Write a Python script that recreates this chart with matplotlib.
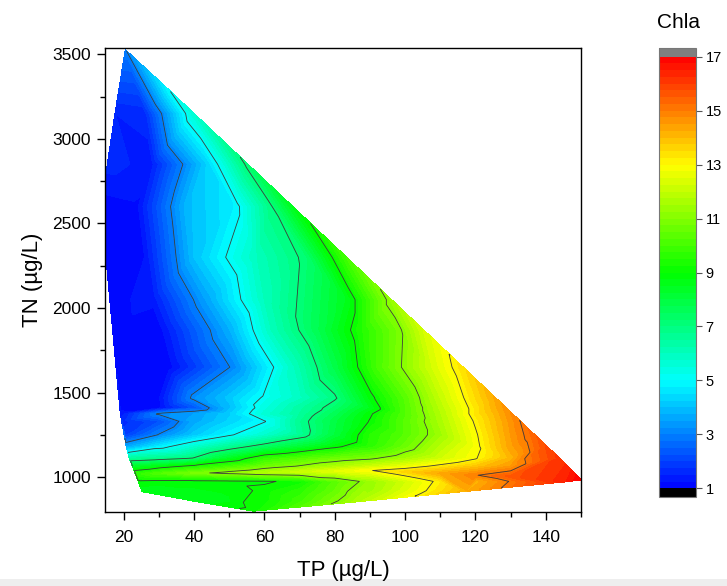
import numpy as np
import matplotlib
matplotlib.use("Agg")
import matplotlib.pyplot as plt
import matplotlib.tri as mtri
from matplotlib.colors import LinearSegmentedColormap
from matplotlib.patches import Rectangle

plt.rcParams["font.family"] = ["Liberation Sans", "DejaVu Sans"]

# sample points, one line per TN row (top to bottom)
tp = [20.5, 33.3,
      17.6, 26, 39.9,
      15.4, 28, 44, 55.2,
      13.8, 24, 38, 52, 62, 68.0,
      15.0, 26, 40, 58, 72, 83.3,
      16.2, 28, 44, 60, 84, 96.0,
      17.0, 30, 50, 62, 76, 88, 98, 105.2,
      18.0, 32, 52, 68, 80, 92, 108, 116.4,
      18.7, 30, 40, 50, 60, 70, 80, 90, 100, 110, 120, 125.6,
      19.0, 30, 40, 50, 60, 70, 80, 90, 100, 110, 120, 128.6,
      19.1, 30, 40, 50, 60, 70, 80, 90, 100, 110, 120, 130.4,
      19.5, 30, 40, 50, 60, 70, 80, 90, 100, 110, 120, 130, 132.7,
      20.2, 30, 40, 50, 60, 70, 80, 90, 100, 110, 120, 130, 136.8,
      20.8, 30, 40, 50, 60, 70, 80, 90, 100, 110, 120, 130, 140.4,
      21.7, 30, 40, 50, 60, 70, 80, 90, 100, 110, 120, 130, 143.9,
      22.7, 30, 40, 50, 60, 70, 80, 90, 100, 110, 120, 130, 146.2,
      23.4, 30, 40, 50, 60, 70, 80, 90, 100, 110, 120, 130, 150,
      24.2, 30, 40, 50, 60, 70, 80, 90, 100, 110, 120, 130, 145.0,
      25.3, 30, 40, 50, 60, 70, 80, 90, 100, 110, 117.3,
      40.3, 50, 60, 70, 80, 87.2,
      57]
tn = [3525, 3280,
      3150, 3150, 3150,
      2850, 2850, 2850, 2850,
      2600, 2600, 2600, 2600, 2600, 2600,
      2300, 2300, 2300, 2300, 2300, 2300,
      2050, 2050, 2050, 2050, 2050, 2050,
      1870, 1870, 1870, 1870, 1870, 1870, 1870, 1870,
      1650, 1650, 1650, 1650, 1650, 1650, 1650, 1650,
      1470, 1470, 1470, 1470, 1470, 1470, 1470, 1470, 1470, 1470, 1470, 1470,
      1410, 1410, 1410, 1410, 1410, 1410, 1410, 1410, 1410, 1410, 1410, 1410,
      1375, 1375, 1375, 1375, 1375, 1375, 1375, 1375, 1375, 1375, 1375, 1375,
      1330, 1330, 1330, 1330, 1330, 1330, 1330, 1330, 1330, 1330, 1330, 1330, 1330,
      1250, 1250, 1250, 1250, 1250, 1250, 1250, 1250, 1250, 1250, 1250, 1250, 1250,
      1180, 1180, 1180, 1180, 1180, 1180, 1180, 1180, 1180, 1180, 1180, 1180, 1180,
      1110, 1110, 1110, 1110, 1110, 1110, 1110, 1110, 1110, 1110, 1110, 1110, 1110,
      1065, 1065, 1065, 1065, 1065, 1065, 1065, 1065, 1065, 1065, 1065, 1065, 1065,
      1020, 1022, 1024, 1026, 1028, 1032, 1036, 1040, 1032, 1022, 1012, 1004, 985,
      975, 975, 975, 975, 975, 975, 975, 975, 975, 975, 975, 975, 972,
      915, 920, 920, 920, 920, 920, 920, 920, 920, 920, 917,
      858, 860, 860, 860, 860, 857,
      800]
chla = [2.95, 5.0,
        1.5, 1.6, 5.67,
        1.6, 1.4, 4.3, 7.2,
        1.1, 1.2, 3.9, 4.8, 6.95, 8.5,
        1.1, 1.25, 4.0, 6.0, 7.2, 10.0,
        1.2, 1.3, 3.6, 6.0, 8.6, 11.3,
        1.2, 1.1, 3.7, 6.0, 7.8, 9.5, 10.8, 12.25,
        1.1, 1.0, 3.2, 5.9, 7.8, 10.0, 12.3, 13.4,
        1.1, 1.2, 3.2, 4.1, 5.1, 5.9, 6.9, 8.8, 10.3, 12.0, 13.5, 14.3,
        1.2, 1.1, 2.3, 3.9, 5.4, 6.4, 7.3, 8.5, 10.2, 11.8, 13.3, 14.6,
        1.3, 3.1, 3.5, 4.2, 5.6, 6.5, 7.6, 8.9, 10.2, 11.7, 13.3, 14.8,
        1.6, 2.2, 3.6, 4.3, 4.95, 6.7, 7.9, 9.05, 10.3, 11.6, 13.1, 14.6, 15.0,
        1.9, 3.05, 4.1, 4.9, 5.7, 6.6, 8.0, 9.5, 10.3, 11.4, 12.9, 14.5, 15.4,
        3.6, 4.7, 5.7, 6.6, 7.4, 8.1, 8.85, 9.6, 10.6, 11.8, 12.8, 14.4, 15.8,
        6.5, 6.75, 7.1, 8.4, 9.7, 10.2, 10.6, 10.9, 11.5, 12.2, 12.95, 14.1, 16.1,
        8.2, 8.6, 9.2, 9.9, 10.6, 11.05, 11.6, 12.1, 12.6, 13.2, 13.8, 14.5, 16.3,
        9.6, 10.2, 10.8, 11.25, 11.7, 12.1, 12.5, 12.95, 13.6, 14.3, 14.95, 15.6, 17.0,
        8.9, 8.85, 8.85, 8.9, 8.95, 9.1, 10.3, 11.3, 12.2, 13.2, 14.1, 15.05, 16.4,
        8.6, 8.6, 8.7, 8.8, 9.1, 9.6, 10.5, 11.4, 12.4, 13.4, 14.2,
        8.55, 8.7, 9.15, 9.9, 10.9, 11.7,
        9.15]

fill_levels = np.arange(1, 17.01, 0.25)
line_levels = [3, 5, 7, 9, 11, 13, 15]
cbar_ticks = [1, 3, 5, 7, 9, 11, 13, 15, 17]
x_major = [20, 40, 60, 80, 100, 120, 140]
x_minor = [30, 50, 70, 90, 110, 130, 150]
y_major = [1000, 1500, 2000, 2500, 3000, 3500]
y_minor = [1250, 1750, 2250, 2750, 3250]
xlim = (14.7, 150)
ylim = (794, 3537)

cmap = LinearSegmentedColormap.from_list(
    "origin_rainbow",
    [(0, "#0000ff"), (0.25, "#00ffff"), (0.5, "#00ff00"), (0.75, "#ffff00"), (1, "#ff0000")])
cmap.set_over("#7f7f7f")
cmap.set_under("#000000")

x = np.array(tp, dtype=float)
y = np.array(tn, dtype=float)
z = np.array(chla, dtype=float)

# triangulate in screen-like units so the mesh looks like the one on the plot
xs = (x - xlim[0]) / (xlim[1] - xlim[0]) * 476
ys = (y - ylim[0]) / (ylim[1] - ylim[0]) * 464
tri = mtri.Triangulation(x, y, mtri.Triangulation(xs, ys).triangles)

fig = plt.figure(figsize=(7.27, 5.86), dpi=100)
ax = fig.add_axes([105 / 727, 74 / 586, 476 / 727, 464 / 586])

cs = ax.tricontourf(tri, z, levels=fill_levels, cmap=cmap, vmin=1, vmax=17, extend="both")
cs.set_edgecolor("face")
cs.set_linewidth(0.3)
ax.tricontour(tri, z, levels=line_levels, colors="#3c3c3c", linewidths=0.6)

ax.set_xlim(*xlim)
ax.set_ylim(*ylim)
ax.set_xticks(x_major)
ax.set_xticks(x_minor, minor=True)
ax.set_yticks(y_major)
ax.set_yticks(y_minor, minor=True)
ax.tick_params(which="major", direction="out", length=6, width=1, labelsize=12.5)
ax.tick_params(axis="x", which="major", pad=7)
ax.tick_params(axis="y", which="major", pad=4)
ax.tick_params(which="minor", direction="out", length=3.5, width=1)
for s in ax.spines.values():
    s.set_linewidth(1.0)
ax.set_xlabel("TP (µg/L)", fontsize=16, labelpad=11)
ax.set_ylabel("TN (µg/L)", fontsize=16, labelpad=7)

cax = fig.add_axes([659 / 727, (586 - 497) / 586, 37 / 727, (497 - 48) / 586])
cb = fig.colorbar(cs, cax=cax, ticks=cbar_ticks, extendfrac=0.02, extendrect=True)
cb.outline.set_edgecolor("#777777")
cb.outline.set_linewidth(0.8)
cb.ax.tick_params(labelsize=10.5, length=4, width=0.8, color="#555555", pad=3)
fig.text(678 / 727, 1 - 22 / 586, "Chla", ha="center", va="center", fontsize=15)

fig.patches.append(Rectangle((0, 0), 1, 7 / 586, transform=fig.transFigure,
                             facecolor="#eeeeee", edgecolor="none", zorder=-1))

fig.savefig("out.png", dpi=100)
